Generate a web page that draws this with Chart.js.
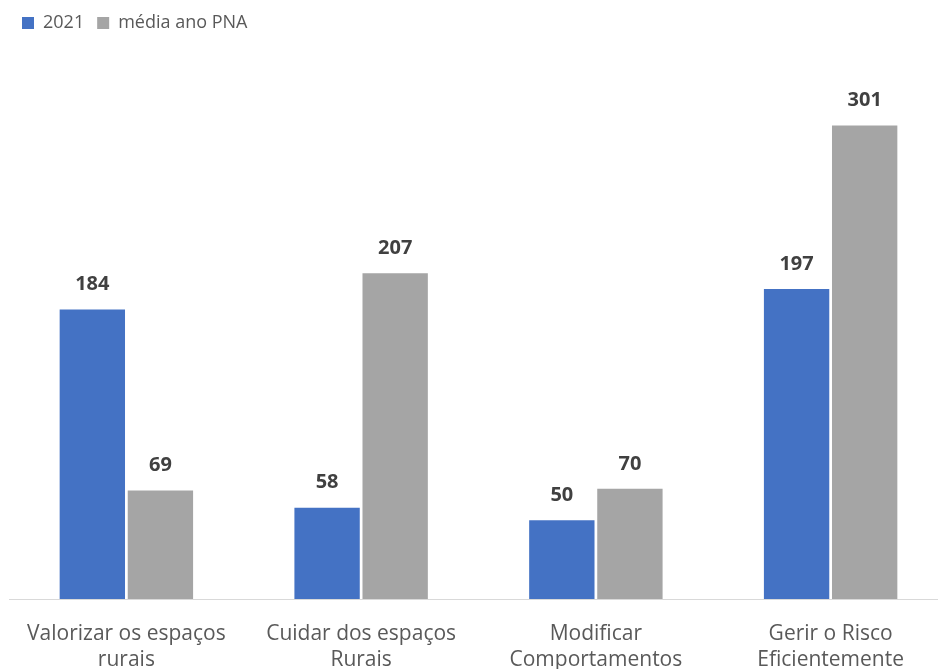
<!DOCTYPE html>
<html lang="pt">
<head>
  <meta charset="UTF-8" />
  <title>2021 vs média ano PNA</title>
  <script src="https://cdn.jsdelivr.net/npm/chart.js"></script>
  <style>
    html, body { margin: 0; padding: 0; background: #fff; overflow: hidden; }
    /* chart is a bit wider than the window: the right edge is cropped like in the original */
    #wrap { width: 948px; height: 669px; position: relative; }
  </style>
</head>
<body>
  <div id="wrap"><canvas id="chart"></canvas></div>

  <script>
    const categories = [
      ["Valorizar os espaços", "rurais"],
      ["Cuidar dos espaços", "Rurais"],
      ["Modificar", "Comportamentos"],
      ["Gerir o Risco", "Eficientemente"]
    ];
    const values2021 = [184, 58, 50, 197];
    const valuesMedia = [69, 207, 70, 301];
    const seriesNames = ["2021", "média ano PNA"];

    // draws the bold numbers above each bar
    const barLabels = {
      id: "barLabels",
      afterDatasetsDraw(chart) {
        const ctx = chart.ctx;
        ctx.save();
        ctx.font = "bold 20px 'Open Sans'";
        ctx.fillStyle = "#404040";
        ctx.textAlign = "center";
        ctx.textBaseline = "bottom";
        chart.data.datasets.forEach((ds, i) => {
          chart.getDatasetMeta(i).data.forEach((bar, j) => {
            ctx.fillText(ds.data[j], bar.x, bar.y - 15);
          });
        });
        ctx.restore();
      }
    };

    const ctx = document.getElementById("chart").getContext("2d");
    new Chart(ctx, {
      type: "bar",
      data: {
        labels: categories,
        datasets: [
          {
            label: seriesNames[0],
            data: values2021,
            backgroundColor: "#4472C4",
            categoryPercentage: 0.58,
            barPercentage: 0.96
          },
          {
            label: seriesNames[1],
            data: valuesMedia,
            backgroundColor: "#A5A5A5",
            categoryPercentage: 0.58,
            barPercentage: 0.96
          }
        ]
      },
      options: {
        responsive: true,
        maintainAspectRatio: false,
        animation: false,
        layout: { padding: { left: 9, right: 0, top: 1, bottom: 0 } },
        plugins: {
          legend: {
            display: true,
            align: "start",
            labels: {
              boxWidth: 12,
              boxHeight: 12,
              padding: 13,
              color: "#595959",
              font: { family: "'Open Sans'", size: 18 }
            }
          },
          tooltip: { enabled: false }
        },
        scales: {
          x: {
            grid: { display: false },
            border: { display: true, color: "#D9D9D9", width: 1 },
            ticks: {
              color: "#595959",
              padding: 14,
              font: { family: "'Open Sans'", size: 21, lineHeight: 1.25 },
              maxRotation: 0
            },
            afterFit(scale) { scale.height = 70; }
          },
          y: {
            display: false,
            min: 0,
            max: 354
          }
        }
      },
      plugins: [barLabels]
    });
  </script>
</body>
</html>
